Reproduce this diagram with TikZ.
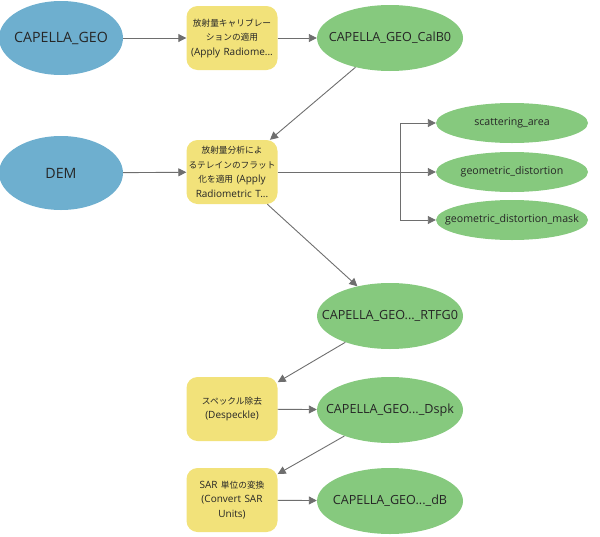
\documentclass[tikz,border=0pt]{standalone}
\usepackage{fontspec}
\setmainfont{Open Sans}
\newfontfamily\jpfont{Noto Sans CJK JP}
\usetikzlibrary{shapes.geometric,arrows.meta}

\definecolor{inblue}{HTML}{6EAFCF}
\definecolor{outgreen}{HTML}{86C97E}
\definecolor{toolyellow}{HTML}{F2E27A}
\definecolor{linkgray}{HTML}{6E6E6E}

% text that does not widen its ellipse
\newcommand{\nm}[1]{\makebox[0pt]{#1}}
% japanese part of a tool label
\newcommand{\ja}[1]{{\jpfont\fontsize{8.7}{14.5}\selectfont #1}}

\begin{document}
\begin{tikzpicture}
  [x=1pt,y=-1pt,
   every node/.style={inner sep=0pt,text=black!85},
   input/.style={ellipse,fill=inblue,minimum width=124pt,minimum height=74pt,
     font=\fontsize{14.2}{18}\selectfont},
   output/.style={ellipse,fill=outgreen,minimum width=146pt,minimum height=66pt,
     font=\fontsize{12.6}{15}\selectfont},
   small/.style={ellipse,fill=outgreen,minimum width=152pt,minimum height=40pt,
     font=\fontsize{10.6}{12}\selectfont},
   tool/.style={rectangle,rounded corners=11pt,fill=toolyellow,minimum width=91pt,
     minimum height=64pt,text width=90pt,align=center,
     font=\fontsize{10}{14.5}\selectfont},
   link/.style={draw=linkgray,line width=0.9pt,-{Triangle[length=8pt,width=8pt]}}]

  \useasboundingbox (0,0) rectangle (600,536);

  \node[input] (geo) at (61,38) {\nm{CAPELLA\_GEO}};
  \node[input] (dem) at (61,173) {\nm{DEM}};

  \node[tool] (cal) at (232,38) {\ja{放射量キャリブレー}\\\ja{ションの適用}\\(Apply Radiome...};
  \node[tool] (rtf) at (232,172) {\ja{放射量分析によ}\\\ja{るテレインのフラット}\\\ja{化を適用} (Apply\\Radiometric T...};
  \node[tool] (dsp) at (232,409) {\ja{スペックル除去}\\(Despeckle)};
  \node[tool] (sar) at (232,500) {SAR \ja{単位の変換}\\(Convert SAR\\Units)};

  \node[output] (calb) at (390,38) {\nm{CAPELLA\_GEO\_CalB0}};
  \node[output] (rtfg) at (390,316) {\nm{CAPELLA\_GEO...\_RTFG0}};
  \node[output] (dspk) at (390,410) {\nm{CAPELLA\_GEO...\_Dspk}};
  \node[output] (db) at (390,501) {\nm{CAPELLA\_GEO...\_dB}};

  \node[small] (area) at (512,123) {\nm{scattering\_area}};
  \node[small] (dist) at (512,172) {\nm{geometric\_distortion}};
  \node[small] (mask) at (512,220) {\nm{geometric\_distortion\_mask}};

  \coordinate (fork) at (400,172);

  \foreach \from/\to in {geo/cal,cal/calb,calb/rtf,dem/rtf,rtf/rtfg,
                         rtfg/dsp,dsp/dspk,dspk/sar,sar/db}
    \draw[link] (\from) -- (\to);

  \draw[draw=linkgray,line width=0.9pt] (rtf) -- (fork);
  \foreach \to in {area,dist,mask}
    \draw[link] (fork) |- (\to);
\end{tikzpicture}
\end{document}
